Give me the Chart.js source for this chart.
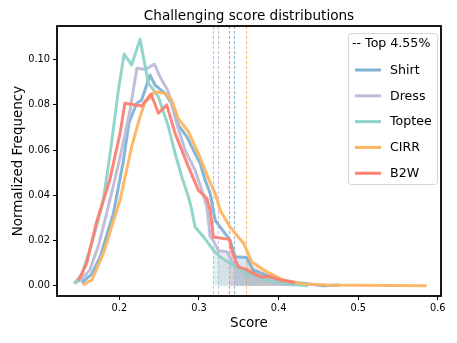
<!DOCTYPE html>
<html>
<head>
<meta charset="utf-8">
<script src="https://cdn.jsdelivr.net/npm/chart.js@4.4.1/dist/chart.umd.min.js"></script>
<style>
html, body { margin: 0; padding: 0; background: #fff; }
</style>
</head>
<body>
<canvas id="chart" width="457" height="343"></canvas>
<script>
// data
var seriesNames = ["Shirt", "Dress", "Toptee", "CIRR", "B2W"];
var seriesColors = ["#80b1d3", "#bebada", "#8dd3c7", "#fdb462", "#fb8072"];
var thresholds = [0.3445, 0.324, 0.318, 0.3588, 0.338];
var legendTitle = "-- Top 4.55%";

var shirtX = [0.1528, 0.165, 0.176, 0.1925, 0.205, 0.212, 0.2218, 0.228, 0.2386, 0.2448, 0.2574, 0.2657, 0.274, 0.2847, 0.295, 0.3014, 0.3077, 0.314, 0.3203, 0.3265, 0.339, 0.3454, 0.360, 0.368, 0.389, 0.414, 0.456, 0.477];
var shirtY = [0.0013, 0.005, 0.0128, 0.032, 0.055, 0.072, 0.0807, 0.0822, 0.0932, 0.0888, 0.0851, 0.0807, 0.0711, 0.066, 0.0586, 0.0542, 0.0468, 0.0409, 0.029, 0.026, 0.0202, 0.0128, 0.0125, 0.007, 0.004, 0.0018, 0.0, 0.0003];

var dressX = [0.144, 0.153, 0.163, 0.174, 0.184, 0.193, 0.201, 0.2135, 0.222, 0.2327, 0.244, 0.251, 0.2616, 0.272, 0.2826, 0.295, 0.3035, 0.3098, 0.314, 0.318, 0.3244, 0.335, 0.343, 0.360, 0.381, 0.402, 0.420];
var dressY = [0.001, 0.003, 0.007, 0.018, 0.032, 0.045, 0.057, 0.0777, 0.0962, 0.0957, 0.098, 0.0925, 0.0858, 0.0718, 0.060, 0.0512, 0.0423, 0.035, 0.0217, 0.020, 0.0155, 0.015, 0.0099, 0.0047, 0.0025, 0.001, 0.0003];

var topteeX = [0.143, 0.153, 0.163, 0.172, 0.180, 0.189, 0.199, 0.206, 0.2155, 0.226, 0.2365, 0.249, 0.2616, 0.270, 0.2784, 0.2867, 0.291, 0.2951, 0.3056, 0.318, 0.3265, 0.339, 0.360, 0.385, 0.410, 0.437];
var topteeY = [0.001, 0.005, 0.016, 0.027, 0.038, 0.060, 0.087, 0.1025, 0.0977, 0.109, 0.0896, 0.0836, 0.0704, 0.0586, 0.0482, 0.0394, 0.0335, 0.026, 0.0217, 0.0158, 0.0128, 0.0099, 0.0055, 0.0025, 0.0008, 0.0];

var cirrX = [0.154, 0.1654, 0.180, 0.2009, 0.2155, 0.226, 0.232, 0.2448, 0.2574, 0.2657, 0.274, 0.287, 0.2992, 0.3118, 0.3203, 0.3265, 0.339, 0.356, 0.3663, 0.385, 0.406, 0.431, 0.460, 0.500, 0.540, 0.586];
var cirrY = [0.0003, 0.0025, 0.0143, 0.038, 0.0615, 0.0748, 0.081, 0.0858, 0.0851, 0.0822, 0.074, 0.068, 0.0586, 0.0475, 0.0409, 0.0335, 0.026, 0.0188, 0.0106, 0.0062, 0.0025, 0.0008, 0.0003, 0.0002, 0.0001, 0.0];

var b2wX = [0.1485, 0.159, 0.1715, 0.188, 0.2009, 0.207, 0.228, 0.2398, 0.249, 0.2595, 0.270, 0.2784, 0.2867, 0.2992, 0.3098, 0.314, 0.318, 0.338, 0.343, 0.3495, 0.360, 0.377, 0.389, 0.402, 0.4207];
var b2wY = [0.0022, 0.0099, 0.0283, 0.0468, 0.0674, 0.0807, 0.0795, 0.0848, 0.0763, 0.080, 0.0674, 0.060, 0.0527, 0.0423, 0.0387, 0.0335, 0.0215, 0.0205, 0.0136, 0.0084, 0.007, 0.004, 0.004, 0.0025, 0.0013];

var xTicks = [0.2, 0.3, 0.4, 0.5, 0.6];
var yTicks = [0.00, 0.02, 0.04, 0.06, 0.08, 0.10];

var allX = [shirtX, dressX, topteeX, cirrX, b2wX];
var allY = [shirtY, dressY, topteeY, cirrY, b2wY];

var FONT = "'DejaVu Sans', sans-serif";

function alpha(hex, a) {
    var r = parseInt(hex.slice(1, 3), 16), g = parseInt(hex.slice(3, 5), 16), b = parseInt(hex.slice(5, 7), 16);
    return "rgba(" + r + "," + g + "," + b + "," + a + ")";
}

function toPoints(xs, ys) {
    return xs.map(function (x, i) { return {x: x, y: ys[i]}; });
}

// part of a curve right of its threshold, starting at the interpolated value
function tail(xs, ys, t) {
    var pts = [];
    for (var i = 0; i < xs.length; i++) {
        if (xs[i] >= t) {
            if (pts.length === 0 && i > 0) {
                var f = (t - xs[i - 1]) / (xs[i] - xs[i - 1]);
                pts.push({x: t, y: ys[i - 1] + f * (ys[i] - ys[i - 1])});
            }
            pts.push({x: xs[i], y: ys[i]});
        }
    }
    return pts;
}

var datasets = [];
seriesNames.forEach(function (name, i) {
    datasets.push({
        label: name + " top",
        data: tail(allX[i], allY[i], thresholds[i]),
        borderWidth: 0,
        pointRadius: 0,
        fill: "origin",
        backgroundColor: alpha(seriesColors[i], 0.3),
        order: 20
    });
});
seriesNames.forEach(function (name, i) {
    datasets.push({
        label: name,
        data: toPoints(allX[i], allY[i]),
        borderColor: alpha(seriesColors[i], 0.95),
        borderWidth: 3,
        pointRadius: 0,
        fill: false,
        tension: 0,
        borderJoinStyle: "round",
        order: 10 - i
    });
});

// dashed threshold lines, frame and legend box
var extras = {
    id: "extras",
    beforeDatasetsDraw: function (chart) {
        var ctx = chart.ctx, a = chart.chartArea, xs = chart.scales.x;
        ctx.save();
        ctx.lineWidth = 1.1;
        ctx.setLineDash([3, 2]);
        thresholds.forEach(function (t, i) {
            var px = Math.round(xs.getPixelForValue(t)) + 0.5;
            ctx.strokeStyle = alpha(seriesColors[i], 0.9);
            ctx.beginPath();
            ctx.moveTo(px, a.top);
            ctx.lineTo(px, a.bottom);
            ctx.stroke();
        });
        ctx.restore();
    },
    afterDraw: function (chart) {
        var ctx = chart.ctx, a = chart.chartArea;
        ctx.save();
        ctx.strokeStyle = "#000";
        ctx.lineWidth = 1.8;
        ctx.strokeRect(a.left, a.top, a.right - a.left, a.bottom - a.top);

        // legend
        var bx = a.right - 93, by = a.top + 7, bw = 89, bh = 151;
        ctx.fillStyle = "rgba(255,255,255,0.85)";
        ctx.strokeStyle = "#d6d6d6";
        ctx.lineWidth = 1;
        ctx.beginPath();
        ctx.roundRect(bx + 0.5, by + 0.5, bw, bh, 3);
        ctx.fill();
        ctx.stroke();

        ctx.font = "12.6px " + FONT;
        ctx.fillStyle = "#000";
        ctx.textBaseline = "middle";
        ctx.textAlign = "left";
        ctx.fillText(legendTitle, bx + 4, by + 11);
        seriesNames.forEach(function (name, i) {
            var y = by + 37 + i * 25.8;
            ctx.strokeStyle = seriesColors[i];
            ctx.lineWidth = 3;
            ctx.beginPath();
            ctx.moveTo(bx + 7, y);
            ctx.lineTo(bx + 33, y);
            ctx.stroke();
            ctx.fillText(name, bx + 42, y + 0.5);
        });
        ctx.restore();
    }
};

var chart = new Chart(document.getElementById("chart"), {
    type: "line",
    data: {datasets: datasets},
    plugins: [extras],
    options: {
        responsive: false,
        animation: false,
        layout: {padding: {left: 0, right: 16, top: 0, bottom: 0}},
        plugins: {
            legend: {display: false},
            tooltip: {enabled: false},
            title: {
                display: true,
                text: "Challenging score distributions",
                fullSize: false,
                color: "#000",
                font: {family: FONT, size: 13.6, weight: "normal"},
                padding: {top: 8, bottom: 1.7}
            }
        },
        scales: {
            x: {
                type: "linear",
                min: 0.1217,
                max: 0.604,
                afterFit: function (s) { s.height = 47; },
                afterBuildTicks: function (s) { s.ticks = xTicks.map(function (v) { return {value: v}; }); },
                grid: {drawOnChartArea: false, drawTicks: true, tickLength: 4, color: "#000", lineWidth: 1},
                border: {display: false},
                ticks: {
                    color: "#000",
                    padding: 3,
                    maxRotation: 0,
                    font: {family: FONT, size: 9.8},
                    callback: function (v) { return v.toFixed(1); }
                },
                title: {
                    display: true,
                    text: "Score",
                    color: "#000",
                    font: {family: FONT, size: 13.5},
                    padding: {top: 0, bottom: 11}
                }
            },
            y: {
                type: "linear",
                min: -0.00456,
                max: 0.1149,
                afterFit: function (s) { s.width = 57; },
                afterBuildTicks: function (s) { s.ticks = yTicks.map(function (v) { return {value: v}; }); },
                grid: {drawOnChartArea: false, drawTicks: true, tickLength: 4, color: "#000", lineWidth: 1},
                border: {display: false},
                ticks: {
                    color: "#000",
                    padding: 3,
                    font: {family: FONT, size: 9.8},
                    callback: function (v) { return v.toFixed(2); }
                },
                title: {
                    display: true,
                    text: "Normalized Frequency",
                    color: "#000",
                    font: {family: FONT, size: 13.5},
                    padding: {top: 10, bottom: 0}
                }
            }
        }
    }
});
</script>
</body>
</html>
